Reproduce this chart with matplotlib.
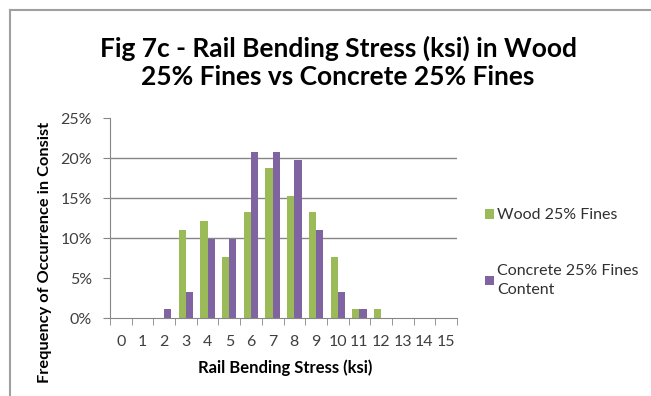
import numpy as np
import matplotlib.pyplot as plt
from matplotlib.lines import Line2D

stress = list(range(16))
wood = [0, 0, 0, 11.0, 12.1, 7.6, 13.2, 18.7, 15.3, 13.2, 7.6, 1.1, 1.1, 0, 0, 0]
concrete = [0, 0, 1.1, 3.3, 9.9, 9.9, 20.8, 20.8, 19.8, 11.0, 3.3, 1.1, 0, 0, 0, 0]
yticks = [0, 5, 10, 15, 20, 25]

green = '#9bbb59'
purple = '#8064a2'
plt.rcParams['font.family'] = ['Lato', 'DejaVu Sans']

fig = plt.figure(figsize=(6.51, 3.96), dpi=100)
ax = fig.add_axes([110/651, 78/396, 347/651, 200/396])

x = np.arange(len(stress))
w = 0.33
ax.bar(x - w/2, wood, w, color=green, label='Wood 25% Fines')
ax.bar(x + w/2, concrete, w, color=purple, label='Concrete 25% Fines\nContent')

ax.set_xlim(-0.5, 15.5)
ax.set_ylim(0, 25)
ax.set_yticks(yticks)
ax.set_yticklabels([f'{t}%' for t in yticks], fontsize=11.5, color='#404040')
ax.set_xticks(x)
ax.set_xticklabels([str(s) for s in stress], fontsize=11.5, color='#404040')
ax.set_xticks(np.arange(-0.5, 16, 1), minor=True)
ax.tick_params(axis='x', which='major', length=0, pad=12)
ax.tick_params(axis='x', which='minor', length=5, color='#868686')
ax.tick_params(axis='y', length=5, color='#868686', pad=8)
for t in [10, 15, 20]:
    ax.axhline(t, color='#868686', lw=1, zorder=0)
for s in ['top', 'right']:
    ax.spines[s].set_visible(False)
for s in ['left', 'bottom']:
    ax.spines[s].set_color('#868686')

fig.text(285/651, 1 - 368/396, 'Rail Bending Stress (ksi)', ha='center', va='center',
         fontsize=12, fontweight='bold')
fig.text(45/651, 1 - 252/396, 'Frequency of Occurrence in Consist', ha='center', va='center',
         rotation=90, fontsize=11.8, fontweight='bold')

fig.text(338/651, 1 - 62/396, 'Fig 7c - Rail Bending Stress (ksi) in Wood\n25% Fines vs Concrete 25% Fines',
         ha='center', va='center', fontsize=19, fontweight='bold', linespacing=1.2)

leg = ax.legend(loc='upper left', bbox_to_anchor=(471/651, 1 - 194/396), bbox_transform=fig.transFigure,
                frameon=False, fontsize=11.5, handlelength=0.55, handleheight=0.55, handletextpad=0.2,
                labelspacing=2.6)
for t in leg.get_texts():
    t.set_linespacing(1.5)
    t.set_color('#303030')

fig.add_artist(Line2D([10/651, 10/651], [0, 1 - 10/396], color='#a0a0a0', lw=1.5))
fig.add_artist(Line2D([10/651, 1], [1 - 10/396, 1 - 10/396], color='#a0a0a0', lw=1.5))

fig.savefig('out.png', dpi=100)
